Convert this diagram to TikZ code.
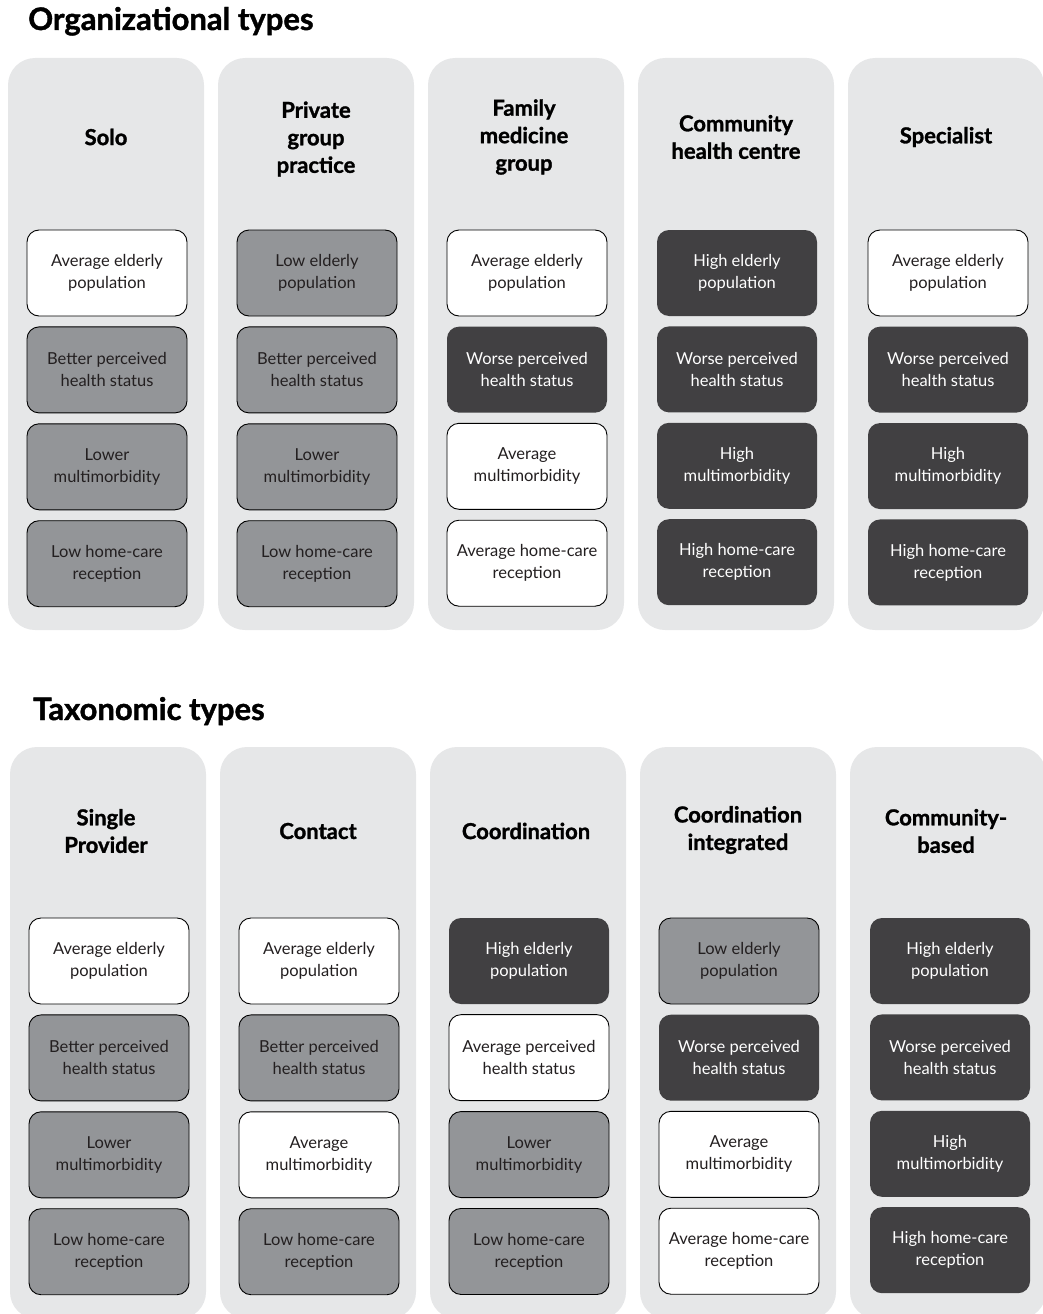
\documentclass[tikz,border=0pt]{standalone}
\usepackage{fontspec}
\setmainfont{Lato}
\newfontfamily\heavyfont{Lato}[BoldFeatures={FakeBold=1.3}]
\usetikzlibrary{positioning}
\definecolor{panelgray}{HTML}{E6E7E8}
\definecolor{midgray}{HTML}{939598}
\definecolor{darkgray}{HTML}{414042}
\definecolor{inkgray}{HTML}{231F20}
\begin{document}
\begin{tikzpicture}[
  x=1pt, y=-1pt,
  panel/.style={fill=panelgray, rounded corners=27pt, minimum width=196pt, minimum height=572pt, inner sep=0pt},
  head/.style={font=\fontsize{22}{27.5}\selectfont\heavyfont\bfseries, align=center, text=black},
  title/.style={font=\fontsize{31}{34}\selectfont\heavyfont\bfseries, anchor=base west, inner sep=0pt},
  cell/.style={rounded corners=12pt, minimum width=160pt, minimum height=86pt, align=center, inner sep=2pt, font=\fontsize{16.5}{22}\selectfont},
  avg/.style={cell, fill=white, draw=black, line width=0.9pt, text=inkgray},
  low/.style={cell, fill=midgray, draw=black, line width=0.9pt, text=inkgray},
  high/.style={cell, fill=darkgray, text=white},
  node distance=10pt
]
\useasboundingbox (0,0) rectangle (1043,1314);
\clip (0,0) rectangle (1043,1314);

% organizational types
\node[title] (orgtitle) at (28,30) {Organizational types};

\node[panel] (solo) at (106,344) {};
\node[panel] (private) at (316,344) {};
\node[panel] (family) at (526,344) {};
\node[panel] (community) at (736,344) {};
\node[panel] (specialist) at (946,344) {};

\node[head] (solohead) at (106,137) {Solo};
\node[head] (privatehead) at (316,139) {Private\\group\\practice};
\node[head] (familyhead) at (524,137) {Family\\medicine\\group};
\node[head] (communityhead) at (736,137) {Community\\health centre};
\node[head] (specialisthead) at (946,137) {Specialist};

\node[avg] (solo1) at (107,273) {Average elderly\\population};
\node[low, below=of solo1] (solo2) {Better perceived\\health status};
\node[low, below=of solo2] (solo3) {Lower\\multimorbidity};
\node[low, below=of solo3] (solo4) {Low home-care\\reception};

\node[low] (private1) at (317,273) {Low elderly\\population};
\node[low, below=of private1] (private2) {Better perceived\\health status};
\node[low, below=of private2] (private3) {Lower\\multimorbidity};
\node[low, below=of private3] (private4) {Low home-care\\reception};

\node[avg] (family1) at (527,273) {Average elderly\\population};
\node[high, below=of family1] (family2) {Worse perceived\\health status};
\node[avg, below=of family2] (family3) {Average\\multimorbidity};
\node[avg, below=of family3] (family4) {Average home-care\\reception};

\node[high] (community1) at (737,273) {High elderly\\population};
\node[high, below=of community1] (community2) {Worse perceived\\health status};
\node[high, below=of community2] (community3) {High\\multimorbidity};
\node[high, below=of community3] (community4) {High home-care\\reception};

\node[avg] (specialist1) at (948,273) {Average elderly\\population};
\node[high, below=of specialist1] (specialist2) {Worse perceived\\health status};
\node[high, below=of specialist2] (specialist3) {High\\multimorbidity};
\node[high, below=of specialist3] (specialist4) {High home-care\\reception};

% taxonomic types
\node[title] (taxtitle) at (33,720) {Taxonomic types};

\node[panel] (single) at (108,1033) {};
\node[panel] (contact) at (318,1033) {};
\node[panel] (coord) at (528,1033) {};
\node[panel] (integr) at (738,1033) {};
\node[panel] (based) at (948,1033) {};

\node[head] (singlehead) at (106,831) {Single\\Provider};
\node[head] (contacthead) at (318,831) {Contact};
\node[head] (coordhead) at (526,831) {Coordination};
\node[head] (integrhead) at (738,830) {Coordination\\integrated};
\node[head] (basedhead) at (946,831) {Community-\\based};

\node[avg] (single1) at (109,961) {Average elderly\\population};
\node[low, below=of single1] (single2) {Better perceived\\health status};
\node[low, below=of single2] (single3) {Lower\\multimorbidity};
\node[low, below=of single3] (single4) {Low home-care\\reception};

\node[avg] (contact1) at (319,961) {Average elderly\\population};
\node[low, below=of contact1] (contact2) {Better perceived\\health status};
\node[avg, below=of contact2] (contact3) {Average\\multimorbidity};
\node[low, below=of contact3] (contact4) {Low home-care\\reception};

\node[high] (coord1) at (529,961) {High elderly\\population};
\node[avg, below=of coord1] (coord2) {Average perceived\\health status};
\node[low, below=of coord2] (coord3) {Lower\\multimorbidity};
\node[low, below=of coord3] (coord4) {Low home-care\\reception};

\node[low] (integr1) at (739,961) {Low elderly\\population};
\node[high, below=of integr1] (integr2) {Worse perceived\\health status};
\node[avg, below=of integr2] (integr3) {Average\\multimorbidity};
\node[avg, below=of integr3] (integr4) {Average home-care\\reception};

\node[high] (based1) at (950,961) {High elderly\\population};
\node[high, below=of based1] (based2) {Worse perceived\\health status};
\node[high, below=of based2] (based3) {High\\multimorbidity};
\node[high, below=of based3] (based4) {High home-care\\reception};
\end{tikzpicture}
\end{document}
